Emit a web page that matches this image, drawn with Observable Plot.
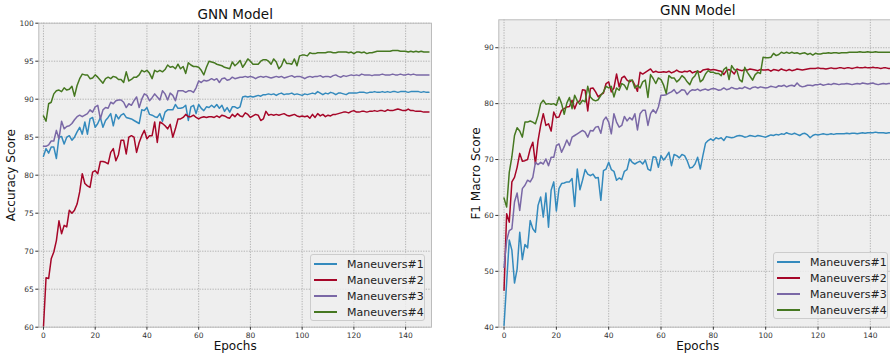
<!DOCTYPE html>
<html><head><meta charset="utf-8">
<script src="https://cdn.jsdelivr.net/npm/d3@7"></script>
<script src="https://cdn.jsdelivr.net/npm/@observablehq/plot@0.6"></script>
<style>
html,body{margin:0;padding:0;background:#fff;}
#wrap{position:relative;width:890px;height:354px;overflow:hidden;font-family:"DejaVu Sans",sans-serif;}
.panel{position:absolute;top:0;}
.legend{position:absolute;background:rgba(238,238,238,0.85);border:1px solid #cccccc;border-radius:3px;box-sizing:border-box;padding:1px 0 0 0;}
.row{display:flex;align-items:center;height:16px;font-size:11px;color:#222;white-space:nowrap;}
.sw{width:23px;height:0;border-top:2px solid;margin:0 10px 0 3px;}
</style>
</head><body>
<div id="wrap"></div>
<script>
const seriesNames = ["Maneuvers#1","Maneuvers#2","Maneuvers#3","Maneuvers#4"];
const seriesColors = ["#348ABD","#A60628","#7A68A6","#467821"];
const xTicks = [0,20,40,60,80,100,120,140];
const accTicks = [60,65,70,75,80,85,90,95,100];
const f1Ticks = [40,50,60,70,80,90];
const epochs = Array.from({length:150},(_,i)=>i);

// Accuracy Score (left)
const acc1 = [82.5,83.5,82.9,83.7,83.7,82.2,85.0,85.1,84.1,85.0,
85.2,84.6,85.0,85.7,86.3,85.4,87.0,85.4,87.4,87.6,
86.3,86.8,87.6,86.3,87.2,87.6,88.1,86.5,88.0,87.4,
87.9,88.1,87.6,87.5,87.4,87.2,87.0,86.8,88.6,88.5,
88.9,88.0,87.9,87.7,87.6,88.1,87.1,88.3,88.6,88.6,
88.6,89.3,88.8,88.8,88.9,89.2,87.2,89.0,89.2,88.1,
89.3,88.8,88.5,89.0,88.9,89.2,88.9,89.3,88.8,89.2,
88.4,88.9,88.3,89.0,89.0,88.8,89.0,90.3,90.4,90.3,
90.4,90.3,90.4,90.5,90.4,90.6,90.6,90.7,90.6,90.7,
90.5,90.7,90.8,90.6,90.7,90.7,90.8,90.6,90.7,90.6,
90.5,90.7,90.6,90.7,90.8,90.7,91.0,90.8,90.6,90.8,
90.7,90.9,90.8,90.6,90.8,90.8,90.7,90.6,90.8,90.8,
90.8,90.8,90.9,90.9,90.9,90.8,90.9,90.9,91.0,90.9,
90.9,91.0,90.9,91.0,90.9,91.0,91.0,90.9,91.0,91.0,
91.0,90.9,91.0,91.0,91.0,91.0,90.9,91.0,90.9,90.9];
const acc2 = [60.0,66.5,66.4,69.0,69.9,71.4,74.0,72.3,73.4,73.2,
75.4,75.0,75.4,76.2,77.8,80.2,78.9,78.6,78.4,80.4,
80.6,80.2,81.8,81.8,81.7,81.5,83.0,83.5,81.9,82.7,
84.6,84.6,82.8,85.0,85.2,85.0,83.0,84.3,85.2,85.9,
84.8,85.2,85.2,87.0,84.3,87.0,86.8,86.5,86.1,86.7,
85.0,86.1,87.4,87.4,87.6,88.0,87.7,87.7,87.9,87.6,
87.4,87.6,87.7,87.6,87.7,87.7,87.6,87.8,87.6,87.9,
87.8,87.6,87.5,88.0,87.7,88.1,87.8,87.7,88.2,88.0,
87.6,87.8,88.0,87.9,87.2,87.4,88.4,87.9,88.0,87.9,
88.0,87.9,88.0,88.1,87.9,87.8,87.9,88.0,87.8,87.7,
87.8,87.7,87.8,87.5,88.0,87.6,88.1,87.8,88.0,87.7,
87.9,87.8,88.0,88.0,88.1,88.2,88.3,88.3,88.2,88.4,
88.5,88.3,88.3,88.4,88.4,88.3,88.4,88.4,88.5,88.4,
88.5,88.5,88.4,88.6,88.5,88.5,88.6,88.7,88.6,88.5,
88.5,88.7,88.5,88.5,88.4,88.4,88.4,88.3,88.3,88.3];
const acc3 = [83.8,83.8,84.0,84.5,84.5,85.9,84.8,87.1,86.1,86.4,
86.5,86.8,87.3,87.7,87.9,87.7,87.9,88.1,88.6,88.3,
89.0,89.2,87.4,88.6,88.9,88.8,89.6,89.4,89.8,89.9,
89.9,89.6,88.9,89.4,89.2,89.8,90.3,88.9,90.0,90.7,
90.5,89.8,90.2,90.7,90.3,89.9,91.1,90.7,89.9,90.8,
90.5,89.8,91.1,91.1,91.1,90.9,91.1,91.1,90.9,91.5,
92.4,92.2,92.5,92.4,92.5,92.7,92.5,92.7,92.2,92.7,
92.8,92.5,92.6,92.9,92.7,92.8,92.9,92.9,93.0,92.9,
93.0,92.9,92.7,92.9,93.0,92.9,93.0,92.9,92.8,92.9,
93.0,92.9,93.0,92.8,92.9,93.0,93.1,92.9,93.0,93.0,
92.9,92.7,92.9,93.0,92.9,93.0,93.0,93.1,92.9,93.0,
93.0,92.9,93.1,93.2,93.0,92.9,93.1,93.0,93.1,93.2,
93.1,93.2,93.1,93.3,93.2,93.2,93.2,93.1,93.2,93.2,
93.2,93.3,93.2,93.2,93.2,93.3,93.2,93.2,93.3,93.2,
93.2,93.3,93.2,93.3,93.2,93.2,93.2,93.2,93.2,93.2];
const acc4 = [87.8,87.1,89.4,89.6,90.7,91.1,91.2,91.0,91.5,91.2,
91.3,91.7,90.4,91.8,92.7,93.3,93.2,93.2,92.7,92.8,
93.2,92.9,92.5,92.1,92.7,92.9,92.7,93.0,92.9,92.6,
92.6,92.2,93.6,92.4,92.6,92.9,92.9,93.2,93.8,93.6,
93.8,93.4,92.7,93.8,93.6,93.8,93.6,93.9,94.5,94.2,
94.3,94.0,94.6,94.0,94.3,93.4,94.8,94.5,94.3,94.3,
94.2,93.8,93.2,94.2,95.0,94.9,94.8,94.6,94.5,94.4,
94.2,94.1,94.0,94.9,94.4,94.7,95.1,94.2,94.7,95.3,
95.0,94.6,94.6,94.6,95.0,95.2,95.2,95.0,94.6,95.3,
94.9,94.0,94.4,95.3,94.7,94.7,94.6,95.3,94.4,95.7,
95.8,95.8,95.7,96.1,96.0,96.0,96.1,96.1,96.1,96.1,
96.2,96.2,96.1,96.1,96.2,96.2,96.2,96.2,96.1,96.2,
96.0,96.2,96.2,96.1,96.2,96.0,96.1,96.1,96.2,96.3,
96.3,96.3,96.3,96.3,96.3,96.4,96.4,96.4,96.3,96.3,
96.3,96.2,96.3,96.2,96.3,96.2,96.3,96.2,96.2,96.2];

// F1 Macro Score (right)
const f1_1 = [40.3,48.0,55.6,53.8,47.9,50.4,57.0,52.1,54.8,54.2,
59.1,57.6,57.0,61.8,63.3,59.7,64.0,57.9,64.5,66.0,
60.8,64.8,65.7,65.8,66.0,66.0,66.6,61.6,68.3,64.6,
66.3,68.2,67.4,67.1,67.4,66.7,66.8,62.7,68.0,68.3,
69.5,68.2,67.9,66.3,66.7,66.4,67.9,68.2,70.1,69.5,
69.2,69.5,69.7,69.2,69.9,68.3,68.0,70.5,70.4,68.6,
70.7,69.9,70.5,71.3,68.9,70.9,70.7,70.3,70.9,70.7,
69.8,68.5,68.6,69.2,70.4,68.3,70.7,72.9,73.4,73.7,
73.4,73.9,73.7,73.9,73.4,74.1,74.0,73.9,74.0,74.2,
74.3,74.2,74.0,74.1,74.3,74.2,74.1,74.3,74.2,74.1,
74.0,74.2,74.4,74.3,74.5,74.4,74.6,74.5,74.8,74.6,
74.5,74.7,74.5,74.3,74.6,74.7,74.4,73.9,74.3,74.5,
74.4,74.5,74.6,74.5,74.5,74.6,74.5,74.6,74.6,74.6,
74.6,74.7,74.6,74.7,74.7,74.6,74.7,74.8,74.7,74.8,
74.8,74.8,74.9,74.8,74.8,74.8,74.7,74.8,74.8,74.8];
const f1_2 = [46.6,60.3,58.8,66.0,66.8,68.6,71.1,69.7,69.8,70.0,
71.9,73.1,69.2,73.4,76.1,78.2,76.1,76.4,75.1,78.5,
77.5,77.6,78.8,79.1,79.4,79.5,80.6,79.1,80.3,80.5,
82.5,82.4,78.7,82.7,82.8,82.1,81.2,81.6,81.9,83.6,
83.9,82.1,82.8,85.3,83.0,84.6,84.9,84.2,83.9,84.2,
83.3,82.2,85.6,85.3,85.6,85.9,86.2,85.6,85.8,85.6,
85.6,85.7,85.6,85.8,85.5,85.7,86.0,85.7,85.6,85.8,
85.7,85.9,85.5,85.7,85.8,85.6,86.0,86.1,86.2,86.0,
86.1,86.0,85.9,85.8,85.2,85.9,86.1,85.8,85.3,86.2,
86.0,85.9,86.1,86.0,86.2,86.1,86.0,85.9,86.1,86.0,
86.0,86.1,85.8,86.1,86.0,85.9,86.2,86.0,85.9,86.1,
85.9,86.0,86.2,86.1,86.0,86.1,86.2,86.3,86.3,86.3,
86.4,86.3,86.3,86.2,86.3,86.4,86.3,86.3,86.4,86.4,
86.3,86.4,86.4,86.3,86.4,86.5,86.4,86.4,86.5,86.4,
86.4,86.5,86.4,86.4,86.3,86.4,86.4,86.3,86.3,86.3];
const f1_3 = [50.7,55.5,57.3,57.6,62.4,64.0,60.9,64.8,65.4,66.3,
66.0,66.8,69.5,69.1,69.5,69.2,70.1,68.9,70.4,70.4,
72.5,72.8,71.3,72.3,73.5,72.5,74.0,74.3,74.6,74.9,
75.2,74.9,74.0,75.2,75.1,75.8,75.9,74.7,77.0,77.6,
76.7,74.6,78.2,76.7,75.8,76.1,77.7,76.9,77.5,77.1,
78.2,75.3,78.2,78.8,78.8,76.1,78.2,78.9,78.3,79.4,
81.5,81.5,81.6,81.9,82.1,82.5,81.8,82.1,82.5,82.4,
81.6,82.2,82.5,82.4,82.6,82.3,82.5,82.6,82.4,82.6,
82.7,82.6,82.4,82.5,82.8,82.5,82.6,82.9,82.7,82.6,
82.8,82.7,83.0,82.8,82.6,82.9,83.0,82.8,83.0,82.9,
82.8,82.9,83.1,83.0,82.9,83.2,83.1,83.3,83.0,83.2,
83.3,83.1,83.7,83.2,83.0,83.1,83.3,83.3,83.2,83.4,
83.4,83.5,83.3,83.4,83.5,83.4,83.6,83.5,83.4,83.5,
83.5,83.6,83.5,83.4,83.5,83.6,83.5,83.7,83.6,83.5,
83.6,83.7,83.5,83.4,83.5,83.6,83.5,83.6,83.6,83.6];
const f1_4 = [63.1,61.5,67.7,70.5,74.3,75.7,75.1,74.0,76.7,76.7,
76.9,76.7,76.4,77.9,80.0,80.6,79.9,80.0,79.9,80.0,
79.7,81.2,80.0,78.1,80.1,81.1,79.1,81.5,80.5,79.9,
80.6,80.3,83.1,81.2,80.7,80.5,80.7,81.5,82.1,83.1,
82.8,83.1,81.2,82.8,82.4,83.6,83.3,82.5,84.2,84.2,
82.8,83.3,82.8,83.9,84.2,81.1,85.2,84.5,83.6,84.6,
84.3,83.3,81.8,85.0,84.6,84.6,83.9,84.3,85.0,84.6,
83.9,83.4,84.5,85.0,85.9,83.9,84.3,85.3,85.9,85.6,
85.6,85.4,85.4,85.0,86.1,86.5,84.3,86.8,86.1,85.9,
84.3,83.9,86.5,85.6,84.9,84.2,85.2,85.6,85.4,88.3,
88.2,88.2,88.3,89.0,88.6,88.8,89.2,89.0,89.2,89.0,
89.2,89.0,89.1,88.9,89.0,89.1,88.8,89.0,88.7,89.0,
88.9,88.9,89.0,89.0,89.1,89.0,89.1,89.1,89.0,89.1,
89.1,89.1,89.2,89.2,89.2,89.2,89.3,89.2,89.2,89.3,
89.2,89.2,89.3,89.2,89.2,89.2,89.2,89.2,89.2,89.2];

function toRows(list){
  const rows=[];
  list.forEach((vals,k)=>vals.forEach((v,i)=>rows.push({epoch:epochs[i],value:v,name:seriesNames[k]})));
  return rows;
}

function makePanel(o){
  const rows = toRows(o.series);
  const gridStyle = {stroke:"#b2b2b2", strokeOpacity:1, strokeWidth:1, strokeDasharray:"1.3,1.3"};
  return Plot.plot({
    width: o.width, height: 354,
    marginTop: o.mt, marginBottom: 27.3, marginLeft: o.ml, marginRight: o.mr,
    style: {fontFamily:"DejaVu Sans", fontSize:"7.5px", color:"#333", background:"transparent", overflow:"visible"},
    x: {domain: o.xDomain, label: null},
    y: {domain: o.yDomain, label: null},
    color: {domain: seriesNames, range: seriesColors},
    marks: [
      Plot.frame({fill:"#eeeeee", stroke:null}),
      Plot.gridX(xTicks, gridStyle),
      Plot.gridY(o.yTicks, gridStyle),
      Plot.line(rows, {x:"epoch", y:"value", z:"name", stroke:"name", strokeWidth:1.5, clip:true}),
      Plot.frame({stroke:"#bcbcbc", strokeWidth:1}),
      Plot.axisX(xTicks, {tickSize:3, tickPadding:2, label:null, stroke:"#333", fill:"#333"}),
      Plot.axisY(o.yTicks, {tickSize:3, tickPadding:2, label:null, stroke:"#333", fill:"#333"}),
      Plot.text(["GNN Model"], {text:d=>d, frameAnchor:"top", lineAnchor:"middle", textAnchor:"middle", dy:-9, fontSize:13.5, fill:"#111"}),
      Plot.text(["Epochs"], {text:d=>d, frameAnchor:"bottom", lineAnchor:"middle", textAnchor:"middle", dy:18.5, fontSize:12, fill:"#111"}),
      Plot.text([o.ylabel], {text:d=>d, frameAnchor:"left", lineAnchor:"middle", textAnchor:"middle", dx:o.labelDx, rotate:-90, fontSize:12, fill:"#111"})
    ]
  });
}

function makeLegend(left, top){
  const lg = document.createElement("div");
  lg.className = "legend";
  lg.style.left = left+"px"; lg.style.top = top+"px";
  lg.style.width = "115px"; lg.style.height = "67px";
  seriesNames.forEach((n,i)=>{
    const r = document.createElement("div"); r.className="row";
    const s = document.createElement("span"); s.className="sw"; s.style.borderTopColor = seriesColors[i];
    const t = document.createElement("span"); t.textContent = n;
    r.appendChild(s); r.appendChild(t); lg.appendChild(r);
  });
  return lg;
}

const wrap = document.getElementById("wrap");
const left = makePanel({width:450, mt:22.7, ml:38.3, mr:19, xDomain:[-1.8,150], yDomain:[60,100], yTicks:accTicks,
  ylabel:"Accuracy Score", labelDx:-27.6, series:[acc1,acc2,acc3,acc4]});
left.classList.add("panel"); left.style.left="0px";
wrap.appendChild(left);
const right = makePanel({width:450, mt:19.3, ml:48.3, mr:4, xDomain:[-2,150], yDomain:[40,95], yTicks:f1Ticks,
  ylabel:"F1 Macro Score", labelDx:-22.6, series:[f1_1,f1_2,f1_3,f1_4]});
right.classList.add("panel"); right.style.left="450px";
wrap.appendChild(right);
wrap.appendChild(makeLegend(310,254));
wrap.appendChild(makeLegend(773,252));
</script>
</body></html>
